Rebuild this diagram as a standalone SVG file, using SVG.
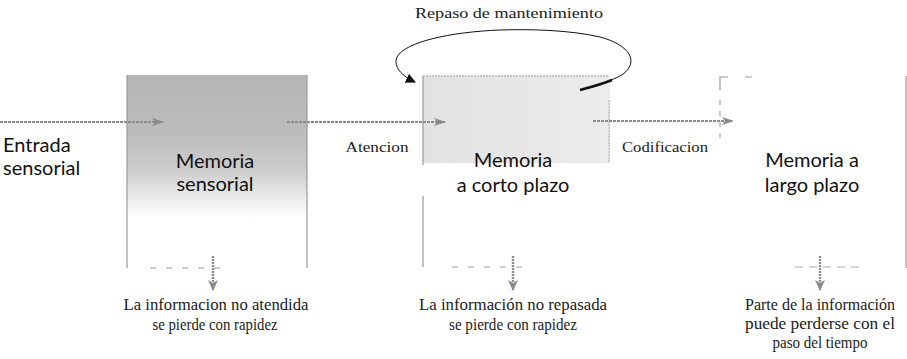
<svg xmlns="http://www.w3.org/2000/svg" width="907" height="359" viewBox="0 0 907 359">
<style>
.lbl{font-family:Lato,"Open Sans",sans-serif;font-size:20px;fill:#111;text-anchor:middle}
.ser{font-family:"Liberation Serif",serif;font-size:15px;fill:#222;text-anchor:middle}
.bot{font-family:"Liberation Serif",serif;font-size:16.5px;fill:#222;text-anchor:middle}
.edge{stroke:#9a9a9a;stroke-width:1.2;fill:none}
.dash{stroke:#a0a0a0;stroke-width:1.2;fill:none;stroke-dasharray:6 10}
.flow{stroke:#8a8a8a;stroke-width:1.8;fill:none;stroke-dasharray:3 1}
.down{stroke:#8a8a8a;stroke-width:2.4;fill:none;stroke-dasharray:2 1}
</style>
<defs>
<linearGradient id="g1" x1="0" y1="0" x2="0" y2="1">
<stop offset="0" stop-color="#b6b6b6"/>
<stop offset="0.3" stop-color="#bcbcbc"/>
<stop offset="0.5" stop-color="#cdcdcd"/>
<stop offset="0.62" stop-color="#e8e8e8"/>
<stop offset="0.74" stop-color="#ffffff"/>
</linearGradient>
<linearGradient id="g2" x1="0" y1="0" x2="1" y2="0">
<stop offset="0" stop-color="#e2e2e2"/>
<stop offset="0.6" stop-color="#e8e8e8"/>
<stop offset="1" stop-color="#ececec"/>
</linearGradient>
<marker id="ah" viewBox="0 0 12 10" refX="11" refY="5" markerWidth="12" markerHeight="10" markerUnits="userSpaceOnUse" orient="auto">
<path d="M0,1 L12,5 L0,9 L3,5 Z" fill="#8a8a8a"/>
</marker>
<marker id="ahd" viewBox="0 0 10 12" refX="5" refY="11" markerWidth="10" markerHeight="12" markerUnits="userSpaceOnUse" orient="0">
<path d="M0,1 L5,12 L10,1 L5,4 Z" fill="#8a8a8a"/>
</marker>
<marker id="ahk" viewBox="0 0 10 10" refX="9" refY="5" markerWidth="10" markerHeight="10" markerUnits="userSpaceOnUse" orient="auto">
<path d="M0,0 L10,5 L0,10 Z" fill="#111"/>
</marker>
</defs>

<g id="node-sensorial">
<rect x="127" y="75" width="180" height="193" fill="url(#g1)"/>
<line class="edge" x1="127" y1="75" x2="127" y2="268"/>
<line class="edge" x1="307" y1="75" x2="307" y2="268"/>
<line class="dash" x1="150" y1="268" x2="225" y2="268"/>
<text class="lbl" x="215" y="168">Memoria</text>
<text class="lbl" x="215" y="191">sensorial</text>
</g>

<g id="node-corto">
<rect x="423" y="76" width="187" height="87" fill="url(#g2)"/>
<line x1="423" y1="76" x2="608" y2="76" stroke="#999" stroke-width="1.2" stroke-dasharray="2 1"/>
<line x1="609" y1="100" x2="609" y2="163" stroke="#aaa" stroke-width="1" stroke-dasharray="2 1"/>
<line class="edge" x1="423" y1="76" x2="423" y2="165"/>
<line class="edge" x1="423" y1="196" x2="423" y2="267"/>
<line class="dash" x1="452" y1="267" x2="525" y2="267"/>
<text class="lbl" x="513" y="167">Memoria</text>
<text class="lbl" x="513" y="192">a corto plazo</text>
</g>

<g id="node-largo">
<path d="M720,90 V77 H728 M745,77 H752" stroke="#999" stroke-width="1.2" fill="none"/>
<line x1="720" y1="100" x2="720" y2="140" stroke="#aaa" stroke-width="1.2" stroke-dasharray="5 6"/>
<line class="edge" x1="906" y1="76" x2="906" y2="268"/>
<line x1="795" y1="267" x2="865" y2="267" stroke="#aaa" stroke-width="1.2" stroke-dasharray="8 6"/>
<text class="lbl" x="812" y="167">Memoria a</text>
<text class="lbl" x="812" y="192">largo plazo</text>
</g>

<g id="node-entrada">
<text class="lbl" x="3" y="152" style="text-anchor:start">Entrada</text>
<text class="lbl" x="3" y="175" style="text-anchor:start">sensorial</text>
</g>

<g id="connectors">
<line class="flow" x1="0" y1="122" x2="163" y2="122" marker-end="url(#ah)"/>
<line class="flow" x1="287" y1="122" x2="445" y2="122" marker-end="url(#ah)"/>
<line class="flow" x1="593" y1="121" x2="733" y2="121" marker-end="url(#ah)"/>
<line class="down" x1="213" y1="256" x2="213" y2="290" marker-end="url(#ahd)"/>
<line class="down" x1="513" y1="256" x2="513" y2="290" marker-end="url(#ahd)"/>
<line class="down" x1="820" y1="256" x2="820" y2="290" marker-end="url(#ahd)"/>
<path d="M580,90 C600,85 612,80 622,75 C640,62 630,45 600,37 C570,30 530,29 500,30 C450,32 405,42 397,57 C393,67 402,76 415,82" stroke="#111" stroke-width="1" fill="none" marker-end="url(#ahk)"/>
<path d="M580,90 C595,86 605,83 612,80" stroke="#111" stroke-width="2.6" fill="none"/>
</g>

<g id="labels">
<text class="ser" x="509" y="18" textLength="188" lengthAdjust="spacingAndGlyphs">Repaso de mantenimiento</text>
<text class="ser" x="377" y="152" textLength="63" lengthAdjust="spacingAndGlyphs">Atencion</text>
<text class="ser" x="665" y="152" textLength="86" lengthAdjust="spacingAndGlyphs">Codificacion</text>
<text class="bot" x="216" y="310" textLength="185" lengthAdjust="spacingAndGlyphs">La informacion no atendida</text>
<text class="bot" x="215" y="330" textLength="125" lengthAdjust="spacingAndGlyphs">se pierde con rapidez</text>
<text class="bot" x="513" y="310" textLength="188" lengthAdjust="spacingAndGlyphs">La información no repasada</text>
<text class="bot" x="513" y="330" textLength="128" lengthAdjust="spacingAndGlyphs">se pierde con rapidez</text>
<text class="bot" x="820" y="310" textLength="150" lengthAdjust="spacingAndGlyphs">Parte de la información</text>
<text class="bot" x="820" y="329" textLength="150" lengthAdjust="spacingAndGlyphs">puede perderse con el</text>
<text class="bot" x="820" y="348" textLength="95" lengthAdjust="spacingAndGlyphs">paso del tiempo</text>
</g>
</svg>
